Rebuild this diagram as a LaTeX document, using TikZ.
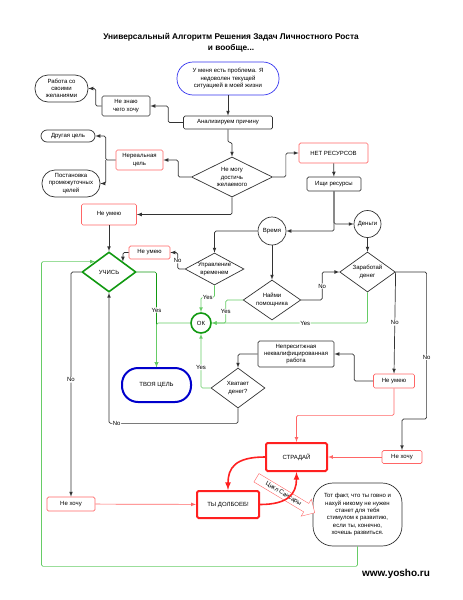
\documentclass[tikz,border=0pt]{standalone}
\usepackage{fontspec}
\setmainfont{Liberation Sans}
\definecolor{redFlow}{HTML}{FF6666}
\definecolor{redThick}{HTML}{FF2020}
\definecolor{greenFlow}{HTML}{66CC66}
\definecolor{greenDark}{HTML}{119911}
\definecolor{blueStart}{HTML}{3333EE}
\definecolor{blueGoal}{HTML}{0000CC}
\definecolor{greyFlow}{HTML}{333333}
\usetikzlibrary{
  arrows,
  shapes.geometric,
  shapes.arrows
}
\newcommand{\boxfont}{\fontsize{6}{7.3}\selectfont}

\begin{document}
\begin{tikzpicture}[
    x = 1pt, y = -1pt,
    % Boxes.
    box/.style = {
      draw = greyFlow, rounded corners = 1.5pt, align = center,
      inner sep = 1pt, font = \boxfont, line width = .7pt
    },
    redbox/.style = {box, draw = redFlow},
    hotbox/.style = {box, draw = redThick, line width = 2pt},
    pill/.style = {box, rounded corners = #1},
    decision/.style = {
      diamond, draw = greyFlow, aspect = 2, inner sep = 0pt,
      align = center, font = \boxfont, line width = .7pt
    },
    resource/.style = {
      circle, draw = greyFlow, inner sep = 0pt, font = \boxfont,
      line width = .7pt
    },
    % Connectors.
    link/.style = {
      -latex,
      draw = greyFlow,
      line width = .7pt,
      rounded corners = 1.5pt
    },
    linkgreen/.style = {link, draw = greenFlow},
    linkred/.style = {link, draw = redFlow},
    linkhot/.style = {-latex, draw = redThick, line width = 1.6pt},
    answer/.style = {fill = white, inner sep = .6pt, font = \boxfont}
  ]
  \useasboundingbox (0,0) rectangle (463,600);

  % Title.
  \node[font = \fontsize{8.3}{11}\selectfont\bfseries, align = center] (title)
    at (231,42.5) {Универсальный Алгоритм Решения Задач Личностного Роста\\и вообще...};

  % Problem and analysis.
  \node[pill = 16pt, draw = blueStart, minimum width = 102pt, minimum height = 33pt] (start)
    at (228,78.5) {У меня есть проблема. Я\\недоволен текущей\\ситуацией в моей жизни};
  \node[box, minimum width = 89pt, minimum height = 13pt] (analyse)
    at (228,122.5) {Анализируем причину};
  \node[box, minimum width = 48pt, minimum height = 20pt] (dontknow)
    at (126,106) {Не знаю\\чего хочу};
  \node[pill = 13pt, minimum width = 53pt, minimum height = 27pt] (wishes)
    at (61.5,88.5) {Работа со\\своими\\желаниями};
  \node[decision, minimum width = 81pt, minimum height = 40pt] (cannot)
    at (232,177) {Не могу\\достичь\\желаемого};
  \node[redbox, minimum width = 47pt, minimum height = 20pt] (unreal)
    at (139.5,160) {Нереальная\\цель};
  \node[pill = 6pt, minimum width = 54pt, minimum height = 12pt] (other)
    at (68,136) {Другая цель};
  \node[pill = 13pt, minimum width = 58pt, minimum height = 27pt] (steps)
    at (71,183.5) {Постановка\\промежуточных\\целей};

  % Resources.
  \node[redbox, minimum width = 69pt, minimum height = 20pt] (nores)
    at (333.5,153) {НЕТ РЕСУРСОВ};
  \node[box, minimum width = 54pt, minimum height = 14pt] (search)
    at (334,184) {Ищи ресурсы};
  \node[resource, minimum size = 28pt] (time) at (272,231) {Время};
  \node[resource, minimum size = 27pt] (money) at (367.5,224) {Деньги};
  \node[decision, minimum width = 59pt, minimum height = 32pt] (timemgmt)
    at (214.5,269) {Управление\\временем};
  \node[decision, minimum width = 54pt, minimum height = 40pt] (helper)
    at (272,300) {Найми\\помощника};
  \node[decision, minimum width = 53pt, minimum height = 40pt] (earn)
    at (367.5,272) {Заработай\\денег};
  \node[redbox, minimum width = 41pt, minimum height = 13pt] (cantdo)
    at (149.5,252.5) {Не умею};
  \node[redbox, minimum width = 41pt, minimum height = 14pt] (cantearn)
    at (394,381) {Не умею};
  \node[box, minimum width = 76pt, minimum height = 26pt] (job)
    at (296,354) {Непреситжная\\неквалифицированная\\работа};
  \node[decision, minimum width = 54pt, minimum height = 40pt] (enough)
    at (238,388) {Хватает\\денег?};
  \node[resource, draw = greenDark, line width = 1.6pt, minimum size = 20pt] (ok)
    at (201,323) {ОК};

  % Learning and goal.
  \node[redbox, minimum width = 55pt, minimum height = 21pt] (cantlearn)
    at (109,214.5) {Не умею};
  \node[decision, draw = greenDark, line width = 1.6pt, minimum width = 54pt, minimum height = 40pt] (learn)
    at (109,272) {УЧИСЬ};
  \node[pill = 16pt, draw = blueGoal, line width = 2pt, minimum width = 69pt, minimum height = 34pt] (goal)
    at (156.5,385) {ТВОЯ ЦЕЛЬ};

  % Suffering.
  \node[hotbox, minimum width = 61pt, minimum height = 28pt] (suffer)
    at (296.5,457) {СТРАДАЙ};
  \node[hotbox, minimum width = 62pt, minimum height = 27pt] (fool)
    at (228,504.5) {ТЫ ДОЛБОЕБ!};
  \node[redbox, minimum width = 40pt, minimum height = 13pt] (dontwant2)
    at (402,457) {Не хочу};
  \node[redbox, minimum width = 48pt, minimum height = 14pt] (dontwant1)
    at (71,504) {Не хочу};
  \node[pill = 20pt, minimum width = 89pt, minimum height = 63pt] (fact)
    at (357.5,514.5) {Тот факт, что ты говно и\\нахуй никому не нужен\\станет для тебя\\стимулом к развитию,\\если ты, конечно,\\хочешь развиться.};
  \node[single arrow, draw = redFlow, fill = white, rotate = -31, font = \boxfont,
    inner sep = 2pt, minimum height = 68pt, single arrow head extend = 5pt] (cycle)
    at (283.5,494) {Цикл Сансары};
  \node[font = \fontsize{10}{12}\selectfont\bfseries] (site) at (396,574) {www.yosho.ru};

  % Analysis links.
  \draw[link] (start) -- (analyse);
  \draw[link] (analyse.west) -- ++(-15,0) |- (dontknow.east);
  \draw[link] (dontknow.west) -- ++(-6,0) |- (wishes.east);
  \draw[link] (analyse.south) -- ++(0,13) -| (cannot.north);
  \draw[link] (cannot.west) -- ++(-13,0) |- (unreal.east);
  \draw[link] (unreal.west) -- ++(-10,0) coordinate (fork) |- (other.east);
  \draw[link] (fork) |- (steps.east);
  \draw[link] (cannot.east) -- ++(13,0) |- (nores.west);
  \draw[link] (cannot.south) |- (cantlearn.east);
  \draw[link] (nores) -- (search);
  \draw[link] (search.south) |- (time.east);
  \draw[link] (search.south) |- (money.west);

  % Time links.
  \draw[link] (time.west) -| (timemgmt.north);
  \draw[link] (time) -- (helper);
  \draw[link] (timemgmt.west) -- ++(-7,0) |- node[answer, pos = .25] {No} (cantdo.east);
  \draw[link] (cantdo.west) -| (learn.north east);
  \draw[linkgreen] (timemgmt.south) -- ++(0,12) -| node[answer, pos = .25] {Yes} (ok.north);
  \draw[link] (helper.east) -- ++(21,0) |- node[answer, pos = .25] {No} (earn.west);
  \draw[linkgreen] (helper.west) -- ++(-17,0) |- node[answer, pos = .25] {Yes} (ok.east);

  % Money links.
  \draw[link] (money) -- (earn);
  \draw[linkgreen] (earn.south) |- node[answer, pos = .7] {Yes} (ok.east);
  \draw[link] (earn.east) -- node[answer] {No} (cantearn.north);
  \draw[link] (earn.east) -- ++(31,0) -- node[answer, pos = .58] {No} ++(0,147) -| (dontwant2.north);
  \draw[link] (cantearn.west) -- ++(-19,0) |- (job.east);
  \draw[linkred] (cantearn.south) -- ++(0,27) -| (suffer.north);
  \draw[linkred] (dontwant2) -- (suffer);
  \draw[link] (job.west) -| (enough.north);
  \draw[linkgreen] (enough.west) -| node[answer, pos = .69] {Yes} (ok.south);
  \draw[link] (enough.south) -- ++(0,15) -| node[answer, pos = .47] {No} (learn.south);

  % Learning links.
  \draw[link] (cantlearn) -- (learn);
  \draw[linkgreen, draw = greenDark] (learn.east) -| node[answer, pos = .7] {Yes} (goal.north);
  \draw[linkgreen] (ok.west) -| (goal.north);
  \draw[link] (learn.west) -| node[answer, pos = .74] {No} (dontwant1.north);
  \draw[linkred] (dontwant1) -- (fool);

  % Cycle.
  \draw[linkhot] (suffer.west) .. controls +(-30,0) and +(0,-22) .. (fool.north);
  \draw[linkhot] (fool.east) .. controls +(28,0) and +(0,22) .. (suffer.south);
  \draw[linkgreen] (fact.south) -- ++(0,20) -- ++(-316,0) |- (learn.north west);
\end{tikzpicture}
\end{document}
